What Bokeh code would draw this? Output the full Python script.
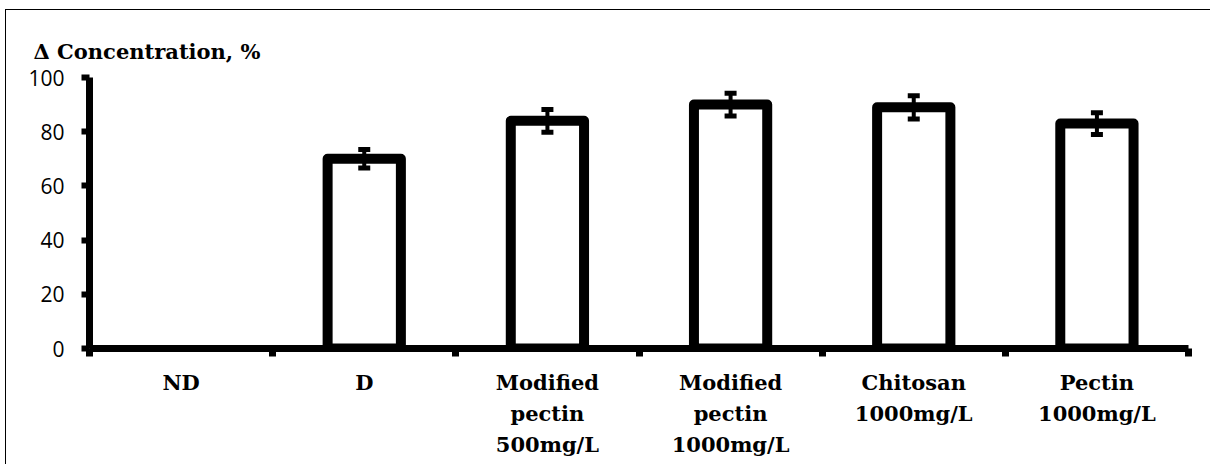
from bokeh.plotting import figure
from bokeh.models import (Range1d, LinearAxis, FixedTicker, ColumnDataSource,
                          Whisker, TeeHead)
from bokeh.embed import file_html
from bokeh.resources import INLINE

categories = ["ND", "D", "Modified\npectin\n500mg/L", "Modified\npectin\n1000mg/L",
              "Chitosan\n1000mg/L", "Pectin\n1000mg/L"]
values = [0, 70, 84, 90, 89, 83]
errors = [0, 3.4, 4.2, 4.2, 4.3, 4.0]
y_ticks = [0, 20, 40, 60, 80, 100]
title_text = "\u0394 Concentration, %"

SERIF = "DejaVu Serif"
SANS = "Open Sans"

n = len(categories)
centers = [i + 0.5 for i in range(n)]
boundaries = list(range(n + 1))

p = figure(width=1205, height=455,
           x_range=Range1d(0, n), y_range=Range1d(0, 100),
           x_axis_location=None, y_axis_location=None,
           output_backend="svg", toolbar_location=None,
           min_border_left=83, min_border_right=23,
           min_border_top=67, min_border_bottom=117)
p.margin = (9, 0, 0, 5)
p.styles = {"border-top": "1px solid #000", "border-left": "1px solid #000"}
p.outline_line_color = None
p.background_fill_color = "white"
p.border_fill_color = "white"

# title
p.title.text = title_text
p.title.text_font = SERIF
p.title.text_font_style = "bold"
p.title.text_font_size = "21px"
p.title.text_color = "black"
p.title.align = "left"
p.title.offset = -56
p.title.standoff = 28

# bars
bx = [c for c, v in zip(centers, values) if v > 0]
bt = [v for v in values if v > 0]
bars = ColumnDataSource(dict(x=bx, top=bt))
p.vbar(x="x", top="top", bottom=0, width=0.4, source=bars,
       fill_color="white", line_color="black", line_width=10, line_join="round")

# error bars
eu = [v + e for v, e in zip(values, errors) if v > 0]
el = [v - e for v, e in zip(values, errors) if v > 0]
esrc = ColumnDataSource(dict(x=bx, upper=eu, lower=el))
w = Whisker(source=esrc, base="x", upper="upper", lower="lower",
            line_color="black", line_width=4,
            upper_head=TeeHead(size=12, line_width=5, line_color="black"),
            lower_head=TeeHead(size=12, line_width=5, line_color="black"))
w.level = "overlay"
p.add_layout(w)

# y axis
yax = LinearAxis(ticker=FixedTicker(ticks=y_ticks))
yax.axis_line_width = 7
yax.axis_line_color = "black"
yax.major_tick_line_width = 6
yax.major_tick_out = 8
yax.major_tick_in = 0
yax.minor_tick_line_color = None
yax.major_label_text_font = SANS
yax.major_label_text_font_size = "21px"
yax.major_label_text_color = "black"
yax.major_label_standoff = 17
p.add_layout(yax, "left")

# x axis: labels at category centres, ticks at category boundaries
xax = LinearAxis(ticker=FixedTicker(ticks=centers, minor_ticks=boundaries))
xax.major_label_overrides = {c: lab for c, lab in zip(centers, categories)}
xax.axis_line_width = 7
xax.axis_line_color = "black"
xax.major_tick_line_color = None
xax.major_tick_out = 0
xax.major_tick_in = 0
xax.minor_tick_line_color = "black"
xax.minor_tick_line_width = 7
xax.minor_tick_out = 8
xax.minor_tick_in = 0
xax.major_label_text_font = SERIF
xax.major_label_text_font_style = "bold"
xax.major_label_text_font_size = "21px"
xax.major_label_text_line_height = 1.25
xax.major_label_text_color = "black"
xax.major_label_standoff = 13
p.add_layout(xax, "below")

p.xgrid.visible = False
p.ygrid.visible = False

open("out.html", "w").write(file_html(p, INLINE))
